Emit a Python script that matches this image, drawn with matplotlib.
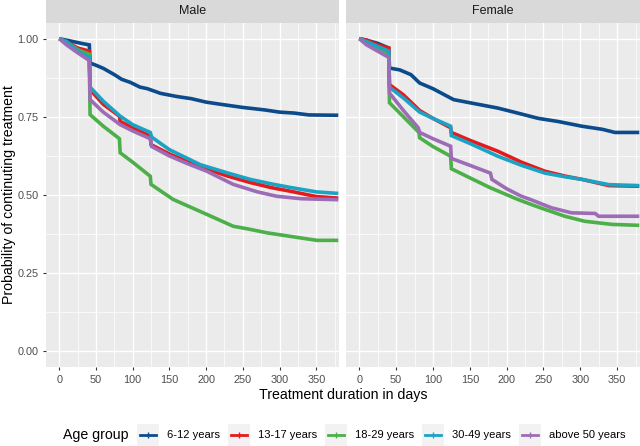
import matplotlib
matplotlib.use("Agg")
import matplotlib.pyplot as plt
from matplotlib.patches import Rectangle
from matplotlib.lines import Line2D
import numpy as np

plt.rcParams['font.family'] = ['Liberation Sans', 'DejaVu Sans']

groups = ["6-12 years", "13-17 years", "18-29 years", "30-49 years", "above 50 years"]
colors = ["#0B4A8B", "#E41A1C", "#4DAF4A", "#1BA3C6", "#9D6CB6"]
panels = ["Male", "Female"]

# Male curves
male_blue_t = [0, 10, 20, 30, 41, 42, 50, 60, 75, 85, 97, 110, 120, 138, 160, 180, 200, 220, 250, 280, 300, 320, 340, 380]
male_blue_s = [1.0, 0.995, 0.99, 0.985, 0.98, 0.922, 0.915, 0.905, 0.885, 0.87, 0.86, 0.845, 0.84, 0.825, 0.815, 0.808, 0.797, 0.79, 0.78, 0.772, 0.765, 0.762, 0.756, 0.755]
male_red_t = [0, 10, 25, 41, 42, 60, 82, 83, 100, 124, 125, 151, 192, 230, 260, 290, 315, 350, 380]
male_red_s = [1.0, 0.99, 0.97, 0.96, 0.837, 0.79, 0.752, 0.735, 0.715, 0.688, 0.661, 0.63, 0.59, 0.56, 0.54, 0.523, 0.512, 0.495, 0.49]
male_green_t = [0, 10, 25, 41, 42, 60, 82, 83, 100, 124, 125, 155, 201, 237, 256, 283, 328, 351, 380]
male_green_s = [1.0, 0.99, 0.965, 0.95, 0.757, 0.72, 0.68, 0.635, 0.605, 0.56, 0.534, 0.486, 0.438, 0.40, 0.392, 0.379, 0.363, 0.355, 0.355]
male_cyan_t = [0, 10, 25, 41, 42, 60, 83, 100, 124, 126, 150, 192, 230, 260, 290, 315, 350, 380]
male_cyan_s = [1.0, 0.99, 0.96, 0.94, 0.845, 0.80, 0.752, 0.725, 0.70, 0.685, 0.645, 0.597, 0.57, 0.55, 0.535, 0.524, 0.51, 0.505]
male_purple_t = [0, 10, 25, 41, 42, 60, 83, 100, 124, 126, 150, 175, 201, 237, 270, 296, 330, 380]
male_purple_s = [1.0, 0.98, 0.955, 0.93, 0.805, 0.765, 0.725, 0.705, 0.68, 0.655, 0.625, 0.60, 0.576, 0.534, 0.51, 0.496, 0.488, 0.485]

# Female curves
female_blue_t = [0, 10, 25, 40, 41, 55, 70, 82, 100, 128, 150, 188, 210, 243, 270, 302, 330, 347, 380]
female_blue_s = [1.0, 0.995, 0.985, 0.97, 0.906, 0.90, 0.885, 0.858, 0.84, 0.805, 0.795, 0.778, 0.765, 0.745, 0.735, 0.72, 0.71, 0.70, 0.70]
female_red_t = [0, 10, 25, 40, 41, 60, 82, 100, 124, 125, 150, 188, 220, 252, 280, 302, 339, 380]
female_red_s = [1.0, 0.995, 0.98, 0.97, 0.853, 0.82, 0.77, 0.745, 0.715, 0.70, 0.675, 0.64, 0.605, 0.576, 0.56, 0.55, 0.53, 0.528]
female_green_t = [0, 10, 25, 40, 41, 60, 81, 82, 100, 124, 125, 150, 178, 215, 233, 252, 279, 306, 343, 380]
female_green_s = [1.0, 0.99, 0.97, 0.95, 0.795, 0.75, 0.70, 0.683, 0.655, 0.624, 0.584, 0.555, 0.523, 0.486, 0.47, 0.454, 0.432, 0.416, 0.406, 0.403]
female_cyan_t = [0, 10, 25, 40, 41, 60, 82, 100, 124, 125, 150, 188, 220, 252, 280, 302, 339, 380]
female_cyan_s = [1.0, 0.99, 0.975, 0.96, 0.845, 0.81, 0.765, 0.745, 0.72, 0.69, 0.665, 0.624, 0.595, 0.57, 0.558, 0.55, 0.533, 0.53]
female_purple_t = [0, 10, 25, 40, 41, 60, 80, 82, 100, 124, 125, 150, 178, 180, 200, 220, 233, 261, 288, 320, 325, 380]
female_purple_s = [1.0, 0.98, 0.96, 0.94, 0.826, 0.77, 0.715, 0.70, 0.68, 0.656, 0.617, 0.595, 0.57, 0.55, 0.52, 0.496, 0.485, 0.459, 0.443, 0.441, 0.432, 0.432]

curves = {
    "Male": [(male_blue_t, male_blue_s), (male_red_t, male_red_s), (male_green_t, male_green_s),
             (male_cyan_t, male_cyan_s), (male_purple_t, male_purple_s)],
    "Female": [(female_blue_t, female_blue_s), (female_red_t, female_red_s), (female_green_t, female_green_s),
               (female_cyan_t, female_cyan_s), (female_purple_t, female_purple_s)],
}

x_ticks = [0, 50, 100, 150, 200, 250, 300, 350]
y_ticks = [0.0, 0.25, 0.5, 0.75, 1.0]
y_ticklabels = ["0.00", "0.25", "0.50", "0.75", "1.00"]

W, H = 640, 446
fig = plt.figure(figsize=(W / 100, H / 100), dpi=100)

panel_px = [(46, 339), (346, 640)]
top_px, bot_px, strip_px = 23, 367, 23

for i, name in enumerate(panels):
    l, r = panel_px[i]
    ax = fig.add_axes([l / W, (H - bot_px) / H, (r - l) / W, (bot_px - top_px) / H])
    ax.set_facecolor("#EBEBEB")
    for sp in ax.spines.values():
        sp.set_visible(False)
    ax.set_xlim(-18, 381)
    ax.set_ylim(-0.05, 1.05)
    ax.set_xticks(x_ticks)
    ax.set_xticks([25, 75, 125, 175, 225, 275, 325, 375], minor=True)
    ax.set_yticks(y_ticks)
    ax.set_yticks([0.125, 0.375, 0.625, 0.875], minor=True)
    ax.grid(True, which="major", color="white", lw=1.0)
    ax.grid(True, which="minor", color="white", lw=0.5)
    ax.set_axisbelow(True)
    ax.tick_params(axis="both", which="major", length=2.5, width=0.8, color="#333333",
                   labelsize=7.8, labelcolor="#4D4D4D", pad=3)
    ax.tick_params(axis="both", which="minor", length=0)
    if i == 0:
        ax.set_yticklabels(y_ticklabels)
    else:
        ax.tick_params(axis="y", which="major", length=0, labelleft=False)
    for (t, s), c in zip(curves[name], colors):
        ax.plot(t, s, color=c, lw=2.6, solid_joinstyle="miter", solid_capstyle="butt")
    # strip
    sax = fig.add_axes([l / W, (H - strip_px) / H, (r - l) / W, strip_px / H])
    sax.set_facecolor("#D9D9D9")
    sax.set_xticks([]); sax.set_yticks([])
    for sp in sax.spines.values():
        sp.set_visible(False)
    sax.text(0.5, 0.5, name, ha="center", va="center", fontsize=9, color="#1A1A1A",
             transform=sax.transAxes)

fig.text(9 / W, 1 - 195 / H, "Probability of continuting treatment", rotation=90,
         ha="center", va="center", fontsize=10.2, color="black")
fig.text(343 / W, 1 - 395 / H, "Treatment duration in days", ha="center", va="center",
         fontsize=10.2, color="black")

# legend drawn manually (ggplot style: title on the left, gray key boxes)
leg_y = 435
fig.text(63 / W, 1 - leg_y / H, "Age group", ha="left", va="center", fontsize=10.2, color="black")
renderer = fig.canvas.get_renderer()
x = 137.0
key_w, key_h = 22.0, 22.0
for g, c in zip(groups, colors):
    fig.patches.append(Rectangle((x / W, 1 - (leg_y + key_h / 2) / H), key_w / W, key_h / H,
                                 transform=fig.transFigure, facecolor="#F2F2F2",
                                 edgecolor="none", figure=fig))
    fig.lines.append(Line2D([(x + 3) / W, (x + key_w - 3) / W], [1 - leg_y / H, 1 - leg_y / H],
                            transform=fig.transFigure, color=c, lw=2.0, figure=fig))
    fig.lines.append(Line2D([(x + key_w / 2) / W], [1 - leg_y / H], transform=fig.transFigure,
                            color=c, marker="|", markersize=4, markeredgewidth=1.0,
                            linestyle="none", figure=fig))
    t = fig.text((x + key_w + 8) / W, 1 - leg_y / H, g, ha="left", va="center",
                 fontsize=8, color="black")
    tw = t.get_window_extent(renderer).width
    x = x + key_w + 8 + tw + 8

fig.savefig("out.png", dpi=100)
